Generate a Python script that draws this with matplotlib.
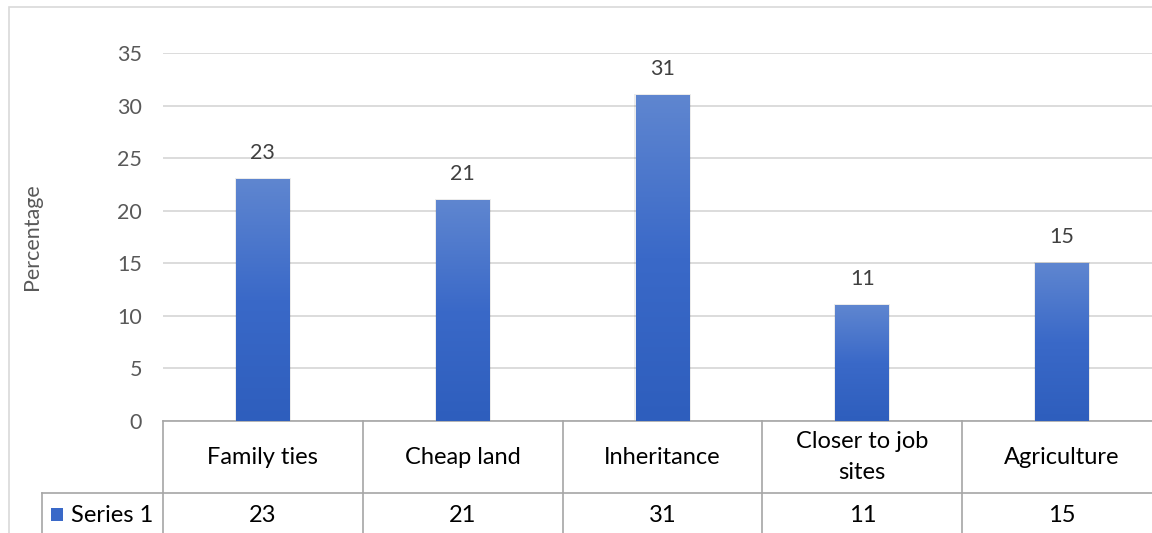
import numpy as np
import matplotlib.pyplot as plt
from matplotlib.patches import Rectangle
from matplotlib.lines import Line2D
from matplotlib.colors import LinearSegmentedColormap

categories = ['Family ties', 'Cheap land', 'Inheritance', 'Closer to job\nsites', 'Agriculture']
values = [23, 21, 31, 11, 15]
series_name = 'Series 1'
yticks = [0, 5, 10, 15, 20, 25, 30, 35]

plt.rcParams['font.family'] = ['Lato', 'DejaVu Sans']

W, H = 1152, 533
fig = plt.figure(figsize=(W / 100, H / 100), dpi=100)

# outer chart border
fig.add_artist(Rectangle((9 / W, -0.1), 1.2, (H - 7) / H + 0.1, transform=fig.transFigure,
                         fill=False, edgecolor='#D9D9D9', lw=1.2))

left, right = 163 / W, 1162 / W
bottom, top = (H - 421) / H, (H - 53) / H
ax = fig.add_axes([left, bottom, right - left, top - bottom])

for s in ax.spines.values():
    s.set_visible(False)
ax.set_yticks(yticks)
ax.set_xticks([])
ax.tick_params(axis='y', length=0, pad=15, labelsize=15.5, labelcolor='#595959')
ax.yaxis.grid(True, color='#D9D9D9', lw=1.3)
ax.set_axisbelow(True)
ax.set_ylabel('Percentage', fontsize=15.5, color='#595959')
ax.yaxis.set_label_coords(-121 / 999, 0.5)

# gradient bars
grad = np.linspace(0, 1, 256).reshape(-1, 1)
cmap = LinearSegmentedColormap.from_list('bar', ['#2E5EBD', '#3A69C8', '#5F86D0'])
bw = 0.27
for i, v in enumerate(values):
    # soft shadow
    ax.add_patch(Rectangle((i - bw / 2 - 0.006, 0), bw + 0.012, v + 0.12,
                           facecolor='#000000', alpha=0.08, lw=0, zorder=2))
    ax.imshow(grad, extent=(i - bw / 2, i + bw / 2, 0, v), origin='lower',
              cmap=cmap, aspect='auto', zorder=3)
    ax.text(i, v + 1.55, str(v), ha='center', va='bottom', fontsize=15.5, color='#404040')
ax.set_xlim(-0.5, len(categories) - 0.5)
ax.set_ylim(0, 35)

# data table below the axes
tc = '#A6A6A6'
ah = 368.0
r1 = -72 / ah
r2 = -0.4
tr = ax.get_xaxis_transform()
nc = len(categories)
ax.add_line(Line2D([-0.5, nc - 0.5], [0, 0], transform=tr, color=tc, lw=1.2, clip_on=False))
leg_x = -0.5 - 121 / 199.8
ax.add_line(Line2D([leg_x, nc - 0.5], [r1, r1], transform=tr, color=tc, lw=1.2, clip_on=False))
for k in range(nc + 1):
    ax.add_line(Line2D([k - 0.5, k - 0.5], [0, r2], transform=tr, color=tc, lw=1.2, clip_on=False))
ax.add_line(Line2D([leg_x, leg_x], [r1, r2], transform=tr, color=tc, lw=1.2, clip_on=False))

row2_y = r1 - 22 / ah
for i, (c, v) in enumerate(zip(categories, values)):
    ax.text(i, r1 / 2, c, transform=tr, ha='center', va='center', fontsize=17,
            color='black', linespacing=1.6)
    ax.text(i, row2_y, str(v), transform=tr, ha='center', va='center',
            fontsize=17, color='black')

# legend key in table
ax.add_patch(Rectangle((leg_x + 9 / 199.8, r1 - 28 / ah), 12 / 199.8, 13 / ah, transform=tr,
                       facecolor='#3A69C8', edgecolor='none', clip_on=False))
ax.text(leg_x + 29 / 199.8, row2_y, series_name, transform=tr,
        ha='left', va='center', fontsize=17, color='black')

fig.savefig('out.png', dpi=100)
